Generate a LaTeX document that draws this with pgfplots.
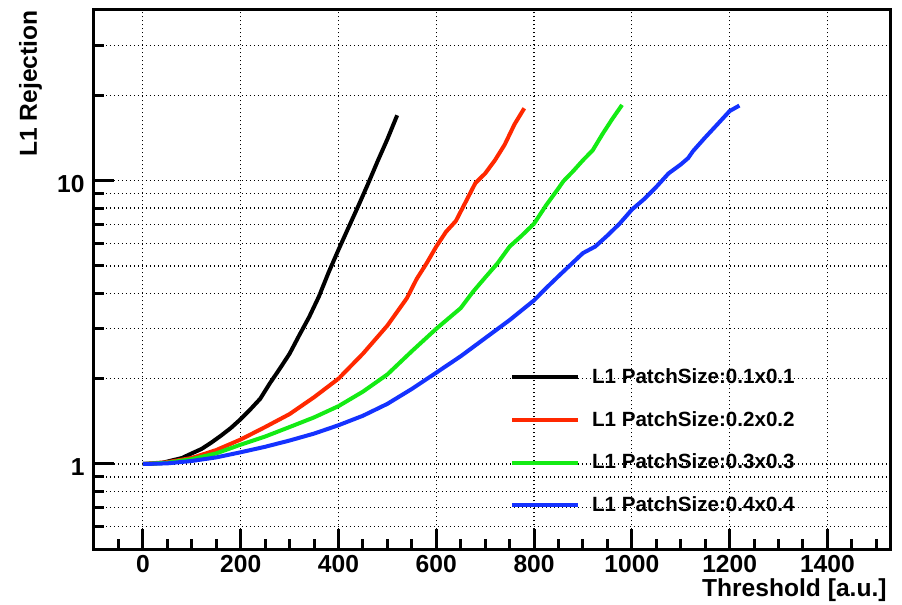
\documentclass[border=0pt]{standalone}
\usepackage{fontspec}
\setmainfont{Liberation Sans}
\usepackage{pgfplots}
\pgfplotsset{compat=1.18}
\definecolor{rootred}{RGB}{255,40,0}
\definecolor{rootgreen}{RGB}{20,235,20}
\definecolor{rootblue}{RGB}{20,50,255}
\begin{document}
\begin{tikzpicture}
\begin{axis}[
  at={(0,0)}, anchor=south west,
  scale only axis, width=398.5pt, height=269.65pt,
  xmin=-100, xmax=1530, ymode=log, ymin=0.5, ymax=40,
  xtick={0,200,...,1400}, minor xtick={-50,0,...,1500},
  ytick={1,10}, yticklabels={1,10},
  minor ytick={0.6,0.7,0.8,0.9,2,3,4,5,6,7,8,9,20,30},
  tick pos=left,
  xmajorgrids, ymajorgrids, yminorgrids,
  grid style={black, line width=0.6pt, dash pattern=on 0.6pt off 1.4pt},
  major tick length=10pt, minor tick length=5pt,
  every tick/.style={black, line width=1.5pt},
  axis line style={line width=1.5pt},
  tick label style={font=\fontsize{12.3}{14}\selectfont\bfseries},
  /pgf/number format/assume math mode=true,
  /pgf/number format/1000 sep={},
  xticklabel style={anchor=base, yshift=-11.5pt, inner sep=0pt},
  yticklabel style={anchor=east, inner sep=0pt, xshift=-4.5pt, yshift=-1.5pt},
  clip mode=individual,
  legend style={at={(rel axis cs:0.522,0.3353)}, anchor=north west, draw=none, fill=none,
    inner sep=0pt, outer sep=0pt, row sep=12.35pt, column sep=6pt,
    font=\fontsize{10.3}{12}\selectfont\bfseries, nodes={inner sep=0pt}},
  legend cell align=left,
  legend image code/.code={\draw[#1, line width=2pt] (0pt,0pt) -- (33pt,0pt);},
]
\addplot[black, line width=2pt, line join=round, no markers] coordinates {
(0,1.00)(20,1.003)(40,1.01)(60,1.03)(80,1.05)(100,1.09)(120,1.13)(140,1.19)(160,1.26)(180,1.34)(200,1.44)(220,1.56)(240,1.70)(260,1.93)(280,2.17)(300,2.45)(320,2.85)(340,3.30)(360,3.90)(380,4.75)(400,5.70)(420,6.80)(440,8.10)(460,9.70)(480,11.7)(500,14.0)(520,17.0)
};
\addlegendentry{L1 PatchSize:0.1x0.1}
\addplot[rootred, line width=2pt, line join=round, no markers] coordinates {
(0,1)(50,1.015)(100,1.05)(150,1.12)(200,1.22)(250,1.35)(300,1.50)(350,1.72)(400,2.00)(450,2.45)(500,3.08)(540,3.85)(560,4.5)(580,5.1)(600,5.85)(620,6.6)(640,7.2)(660,8.4)(680,9.8)(700,10.6)(720,11.8)(740,13.4)(760,15.8)(780,18.0)
};
\addlegendentry{L1 PatchSize:0.2x0.2}
\addplot[rootgreen, line width=2pt, line join=round, no markers] coordinates {
(0,1)(50,1.01)(100,1.04)(150,1.09)(200,1.17)(250,1.25)(300,1.35)(350,1.46)(400,1.60)(450,1.80)(500,2.07)(550,2.50)(600,3.00)(650,3.55)(675,4.05)(700,4.55)(725,5.1)(750,5.85)(775,6.4)(800,7.05)(825,8.2)(850,9.4)(860,9.95)(880,10.8)(900,11.8)(920,12.8)(940,14.6)(960,16.5)(980,18.5)
};
\addlegendentry{L1 PatchSize:0.3x0.3}
\addplot[rootblue, line width=2pt, line join=round, no markers] coordinates {
(0,1)(50,1.005)(100,1.025)(150,1.055)(200,1.10)(250,1.15)(300,1.21)(350,1.28)(400,1.37)(450,1.48)(500,1.63)(550,1.84)(600,2.10)(650,2.40)(700,2.78)(750,3.22)(800,3.78)(825,4.18)(850,4.6)(900,5.55)(925,5.85)(950,6.4)(975,7.05)(1000,7.9)(1025,8.6)(1050,9.5)(1075,10.6)(1100,11.4)(1115,12.0)(1125,12.7)(1150,14.2)(1175,15.8)(1200,17.6)(1220,18.4)
};
\addlegendentry{L1 PatchSize:0.4x0.4}
\node[anchor=base east, inner sep=0pt, xshift=-2pt, yshift=-23.5pt, font=\fontsize{12.3}{14}\selectfont\bfseries] at (rel axis cs:1,0) {Threshold [a.u.]};
\node[xshift=-28.5pt, rotate=90, anchor=base east, inner sep=0pt, font=\fontsize{12.3}{14}\selectfont\bfseries] at (rel axis cs:0,1) {L1 Rejection};
\end{axis}
\pgfresetboundingbox
\path[use as bounding box] (-47pt,-27.85pt) rectangle (404pt,274.65pt);
\end{tikzpicture}
\end{document}
